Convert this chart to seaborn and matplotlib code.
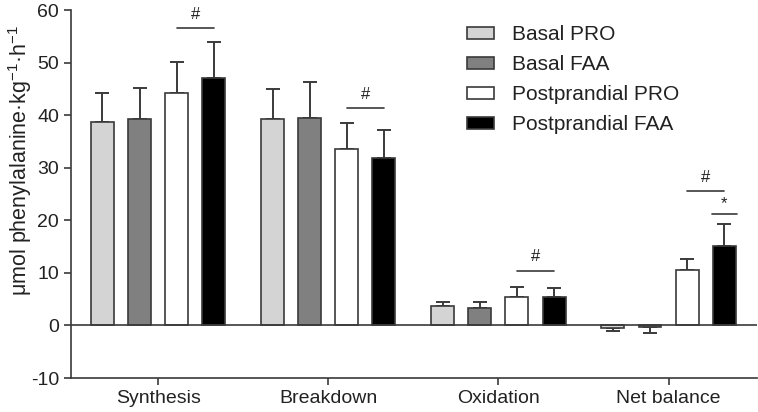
import matplotlib
matplotlib.use("Agg")
import matplotlib.pyplot as plt
import seaborn as sns
import pandas as pd
import numpy as np

categories = ["Synthesis", "Breakdown", "Oxidation", "Net balance"]
groups = ["Basal PRO", "Basal FAA", "Postprandial PRO", "Postprandial FAA"]
values = {
    "Basal PRO":        [38.7, 39.3, 3.7, -0.5],
    "Basal FAA":        [39.2, 39.5, 3.3, -0.3],
    "Postprandial PRO": [44.2, 33.5, 5.4, 10.5],
    "Postprandial FAA": [47.1, 31.8, 5.5, 15.2],
}
errors = {
    "Basal PRO":        [5.5, 5.6, 0.7, 0.6],
    "Basal FAA":        [6.0, 6.8, 1.1, 1.1],
    "Postprandial PRO": [5.9, 5.0, 1.9, 2.2],
    "Postprandial FAA": [6.9, 5.3, 1.6, 4.1],
}
colors = ["#d4d4d4", "#808080", "#ffffff", "#000000"]

rows = []
for g in groups:
    for c, v in zip(categories, values[g]):
        rows.append({"cat": c, "grp": g, "val": v})
df = pd.DataFrame(rows)

sns.set_style("ticks")
plt.rcParams["font.family"] = ["Liberation Sans", "DejaVu Sans"]
plt.rcParams["axes.unicode_minus"] = False
plt.rcParams["mathtext.fontset"] = "custom"
plt.rcParams["mathtext.rm"] = "Liberation Sans"
edge = "#3a3a3a"
txt = "#222222"

fig = plt.figure(figsize=(7.58, 4.12), dpi=100)
ax = fig.add_axes([0.0937, 0.0825, 0.905, 0.8932])

sns.barplot(data=df, x="cat", y="val", hue="grp", order=categories,
            hue_order=groups, palette=colors, errorbar=None, width=0.872,
            gap=0.38, edgecolor=edge, linewidth=1.2, ax=ax, zorder=3)

centers = {}
for gi, g in enumerate(groups):
    cont = ax.containers[gi]
    for ci, bar in enumerate(cont.patches):
        x = bar.get_x() + bar.get_width() / 2
        centers[(gi, ci)] = x
        v = values[g][ci]
        e = errors[g][ci]
        if v >= 0:
            yerr = [[0], [e]]
        else:
            yerr = [[e], [0]]
        ax.errorbar(x, v, yerr=yerr, fmt="none", ecolor=edge, elinewidth=1.4,
                    capsize=4.7, capthick=1.4, zorder=2)

ax.axhline(0, color=edge, lw=1.2, zorder=4)

def sig(ci, g1, g2, y, s, dy=1.2, half=0.0):
    x1 = centers[(g1, ci)] - half
    x2 = centers[(g2, ci)] + half
    ax.plot([x1, x2], [y, y], color=edge, lw=1.2, zorder=5)
    ax.text((x1 + x2) / 2, y + dy, s, ha="center", va="bottom", fontsize=12,
            color=txt)

sig(0, 2, 3, 56.6, "#")
sig(1, 2, 3, 41.3, "#")
sig(2, 2, 3, 10.4, "#")
sig(3, 2, 3, 25.6, "#")
sig(3, 3, 3, 21.2, "*", dy=0.6, half=0.073)

ax.set_xlim(-0.512, 3.52)
ax.set_ylim(-10, 60)
ax.set_yticks(np.arange(-10, 61, 10))
ax.set_xlabel("")
ax.set_ylabel("μmol phenylalanine·kg$^{\\mathrm{-1}}$·h$^{\\mathrm{-1}}$",
              fontsize=15.5, color=txt)
ax.yaxis.set_label_coords(-0.054, 0.592)
ax.tick_params(axis="both", labelsize=14, colors=edge, labelcolor=txt,
               length=5, width=1.2)
for s in ["top", "right"]:
    ax.spines[s].set_visible(False)
for s in ["left", "bottom"]:
    ax.spines[s].set_color(edge)
    ax.spines[s].set_linewidth(1.2)

leg = ax.legend(loc="upper left", bbox_to_anchor=(0.577, 0.958), frameon=False,
                fontsize=15, handlelength=1.3, handleheight=0.5,
                labelspacing=0.52, handletextpad=0.87, borderpad=0,
                borderaxespad=0)
for t in leg.get_texts():
    t.set_color(txt)

fig.savefig("out.png", dpi=100)
